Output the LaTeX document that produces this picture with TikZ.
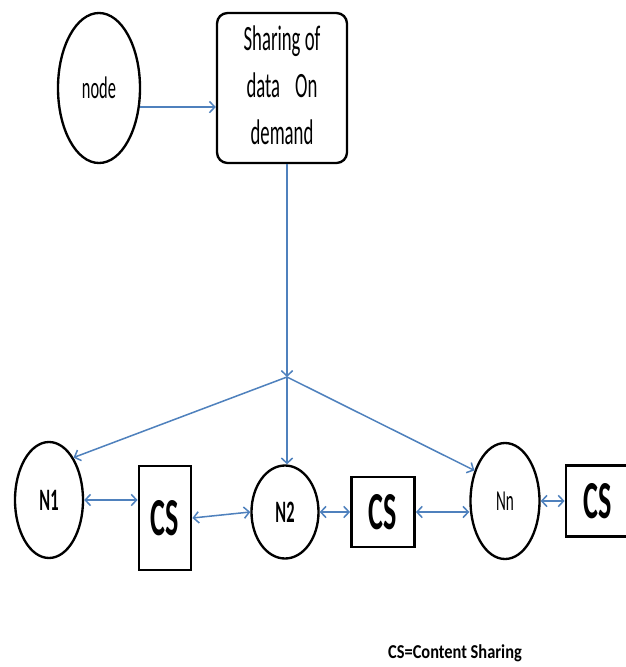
\documentclass[tikz,border=0pt]{standalone}
\usepackage{fontspec}
\setmainfont{Carlito}
\usepackage{tikz}
\usetikzlibrary{positioning,arrows.meta,shapes.geometric}
\usepackage{xcolor}
\definecolor{linkblue}{RGB}{79,129,189}
\newcommand{\tallt}[1]{\scalebox{1}[1.9]{#1}}

\begin{document}
\begin{tikzpicture}[x=0.03cm,y=-0.03cm,>={Straight Barb[length=1.6mm,width=3.4mm]},
  oval/.style={draw,ellipse,line width=2pt,inner sep=0pt},
  csbox/.style={draw,line width=2.4pt,inner sep=0pt},
  link/.style={draw=linkblue,line width=1.3pt}]
\useasboundingbox (0,0) rectangle (626,667);
\node[oval,minimum width=2.46cm,minimum height=4.5cm] (src) at (99,88) {\fontsize{14}{16}\selectfont\tallt{node}};
\node[draw,rounded corners=9pt,line width=2pt,minimum width=3.9cm,minimum height=4.5cm,inner sep=0pt] (share) at (282,88)
  {\fontsize{16}{21}\selectfont\tallt{\begin{tabular}{@{}c@{}}Sharing of\\data\hspace{0.8em}On\\demand\end{tabular}}};
\coordinate (hub) at (287,377);
\node[oval,minimum width=2.04cm,minimum height=3.48cm] (n1) at (49,500) {\fontsize{14}{16}\selectfont\bfseries\tallt{N1}};
\node[csbox,minimum width=1.56cm,minimum height=3.12cm] (cs1) at (165,518) {\fontsize{24}{26}\selectfont\bfseries\tallt{CS}};
\node[oval,minimum width=2.01cm,minimum height=2.79cm] (n2) at (285,512) {\fontsize{14}{16}\selectfont\bfseries\tallt{N2}};
\node[csbox,minimum width=1.89cm,minimum height=2.1cm] (cs2) at (383,512) {\fontsize{24}{26}\selectfont\bfseries\tallt{CS}};
\node[oval,minimum width=2.07cm,minimum height=3.48cm] (nn) at (505,501) {\fontsize{13}{16}\selectfont\tallt{Nn}};
\node[csbox,minimum width=1.92cm,minimum height=2.13cm] (cs3) at (598,501) {\fontsize{24}{26}\selectfont\bfseries\tallt{CS}};
\node (note) at (455,653) {\fontsize{14}{16}\selectfont\bfseries\scalebox{1}[1.2]{CS=Content Sharing}};
% request and spread
\draw[link,->] (src.-25) -- (src.-25 -| share.west);
\draw[link,->] (share.south -| hub) -- (hub);
\draw[link,->] (hub) -- (n1.60);
\draw[link,->] (hub) -- (hub |- n2.north);
\draw[link,->] (hub) -- (nn.135);
% content sharing links
\draw[link,<->] (n1.east) -- (n1.east -| cs1.west);
\draw[link,<->] (cs1.east) -- (n2.west);
\draw[link,<->] (n2.east) -- (cs2.west);
\draw[link,<->] (cs2.east) -- (cs2.east -| nn.west);
\draw[link,<->] (nn.east) -- (cs3.west);
\end{tikzpicture}
\end{document}
